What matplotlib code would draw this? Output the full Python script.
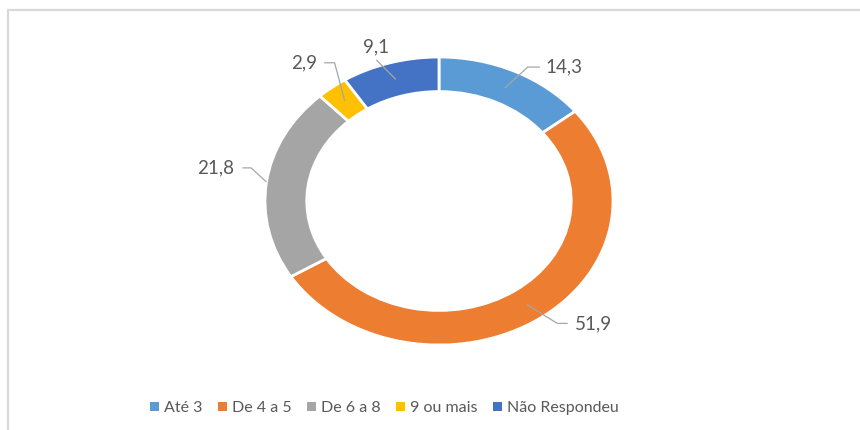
import numpy as np
import matplotlib.pyplot as plt
from matplotlib.patches import Patch, Rectangle

# data
categories = ["Até 3", "De 4 a 5", "De 6 a 8", "9 ou mais", "Não Respondeu"]
values = [14.3, 51.9, 21.8, 2.9, 9.1]
labels = ["14,3", "51,9", "21,8", "2,9", "9,1"]
colors = ["#5B9BD5", "#ED7D31", "#A5A5A5", "#FFC000", "#4472C4"]

# layout of the value labels (normalized donut units): leader elbow, text anchor
W, H = 860, 430
cx, cy, rx, ry = 439, 201, 174, 144
label_layout = [
    # (start radius, elbow, end, text pos, ha)
    (0.87, (0.51, 0.93), (0.58, 0.93), (0.61, 0.93), "left"),
    (0.88, (0.68, -0.85), (0.74, -0.85), (0.78, -0.85), "left"),
    (1.00, (-1.08, 0.23), (-1.13, 0.23), (-1.18, 0.23), "right"),
    (0.88, (-0.60, 0.96), (-0.66, 0.96), (-0.70, 0.96), "right"),
    (0.88, (-0.36, 0.98), (-0.36, 0.98), (-0.36, 1.07), "center"),
]

plt.rcParams['font.family'] = ['Lato', 'DejaVu Sans']
fig = plt.figure(figsize=(W / 100, H / 100), dpi=100)
ax = fig.add_axes([0, 0, 1, 1])

wedges, _ = ax.pie(values, colors=colors, startangle=90, counterclock=False,
                   radius=1, wedgeprops=dict(width=0.24, edgecolor="white", linewidth=2))
ax.set_aspect('auto')
ax.set_xlim(-cx / rx, (W - cx) / rx)
ax.set_ylim((cy - H) / ry, cy / ry)
ax.axis('off')

for w, lab, (r0, elbow, end, tpos, ha) in zip(wedges, labels, label_layout):
    ang = np.deg2rad((w.theta1 + w.theta2) / 2)
    x0, y0 = r0 * np.cos(ang), r0 * np.sin(ang)
    ax.plot([x0, elbow[0], end[0]], [y0, elbow[1], end[1]], color="#A6A6A6", lw=0.9,
            solid_capstyle="butt")
    ax.text(tpos[0], tpos[1], lab, ha=ha, va="center", fontsize=13.5, color="#595959")

handles = [Patch(facecolor=c, edgecolor="none") for c in colors]
fig.legend(handles, categories, loc="center", bbox_to_anchor=(0.447, 1 - 408 / H), ncol=5,
           frameon=False, fontsize=11.5, labelcolor="#595959", handlelength=0.55,
           handleheight=0.55, handletextpad=0.3, columnspacing=1.0)

# chart area border (only top and left visible in the crop)
fig.add_artist(Rectangle((8 / W, -0.1), 1.2, 1 - 10 / H + 0.1, transform=fig.transFigure,
                         fill=False, edgecolor="#D9D9D9", linewidth=1.6))

fig.savefig("out.png", dpi=100)
